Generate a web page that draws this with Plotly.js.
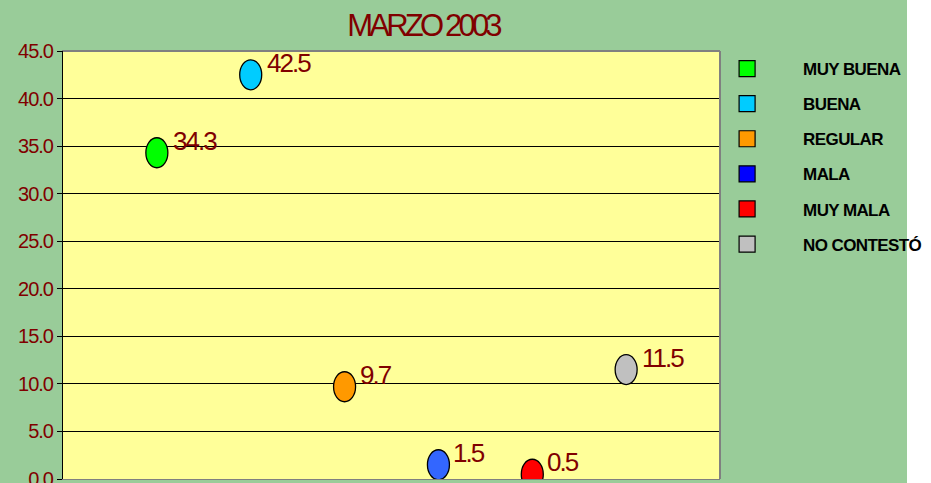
<!DOCTYPE html>
<html>
<head>
<meta charset="utf-8">
<script src="https://cdn.plot.ly/plotly-3.0.1.min.js"></script>
<style>
  html, body { margin:0; padding:0; background:#ffffff; }
  #wrap { width:931px; height:483px; background:linear-gradient(to right, #99CC99 0px, #99CC99 907px, #ffffff 907px); }
  #chart { width:931px; height:483px; }
  #chart .gtitle { letter-spacing:-3.8px; }
  #chart .ytick text { letter-spacing:-1px; }
  #chart .annotation-text { letter-spacing:-2px; }
  #chart .legendtext { letter-spacing:-0.6px; }
</style>
</head>
<body>
<div id="wrap"><div id="chart"></div></div>
<script>
const categories = ["MUY BUENA", "BUENA", "REGULAR", "MALA", "MUY MALA", "NO CONTESTÓ"];
const positions = [1, 2, 3, 4, 5, 6];
const values = [34.3, 42.5, 9.7, 1.5, 0.5, 11.5];
const markerColors = ["#00FF00", "#00CCFF", "#FF9900", "#3366FF", "#FF0000", "#C0C0C0"];
const legendColors = ["#00FF00", "#00CCFF", "#FF9900", "#0000FF", "#FF0000", "#C0C0C0"];
const yTicks = [0, 5, 10, 15, 20, 25, 30, 35, 40, 45];

const darkRed = "#800000";
const font = "Liberation Sans, Arial, sans-serif";

// legend entries (square swatches)
const traces = categories.map((c, i) => ({
  type: "scatter", mode: "markers",
  x: [null], y: [null],
  name: c, legendgroup: "g" + i,
  marker: { symbol: "square", size: 18, color: legendColors[i], line: { color: "#000000", width: 1.2 } },
  showlegend: true, hoverinfo: "skip"
}));

// elliptical point markers, anchored at the data values through the axes
const shapes = categories.map((c, i) => ({
  type: "circle", xref: "x", yref: "y", layer: "above",
  xsizemode: "pixel", ysizemode: "pixel",
  xanchor: positions[i], yanchor: values[i],
  x0: -11, x1: 11, y0: -15, y1: 15,
  fillcolor: markerColors[i], line: { color: "#000000", width: 1.3 }
}));
shapes.push(
  { type: "line", xref: "paper", yref: "paper", x0: 0, x1: 1, y0: 1, y1: 1, line: { color: "#808080", width: 2 } },
  { type: "line", xref: "paper", yref: "paper", x0: 1, x1: 1, y0: 0, y1: 1, line: { color: "#808080", width: 2 } }
);

// value labels
const annotations = categories.map((c, i) => ({
  x: positions[i], y: values[i], xref: "x", yref: "y",
  text: values[i].toFixed(1), showarrow: false,
  xanchor: "left", yanchor: "middle", xshift: 10, yshift: 12,
  font: { family: font, size: 26, color: darkRed }
}));

const layout = {
  width: 931, height: 483,
  paper_bgcolor: "rgba(0,0,0,0)",
  plot_bgcolor: "#FFFF99",
  margin: { l: 63, r: 211, t: 51, b: 4, pad: 0, autoexpand: false },
  title: {
    text: "MARZO 2003",
    font: { family: font, size: 31, color: darkRed },
    x: 0.548, xref: "paper", xanchor: "center",
    y: 0.947, yref: "container", yanchor: "middle"
  },
  xaxis: {
    range: [0, 7], showticklabels: false, showgrid: false, zeroline: false,
    showline: true, linecolor: "#808080", linewidth: 1, mirror: true, ticks: ""
  },
  yaxis: {
    range: [0, 45], tickvals: yTicks, ticktext: yTicks.map(v => v.toFixed(1)),
    showgrid: true, gridcolor: "#000000", gridwidth: 1, zeroline: false,
    showline: true, linecolor: "#000000", linewidth: 1, mirror: false,
    ticks: "outside", ticklen: 5, tickcolor: "#000000",
    ticklabeloverflow: "allow",
    tickfont: { family: font, size: 20, color: darkRed }
  },
  shapes: shapes,
  annotations: annotations,
  legend: {
    x: 0.956, xanchor: "left", y: 1.0, yanchor: "top",
    bgcolor: "rgba(0,0,0,0)", xref: "paper",
    font: { family: font, size: 17, color: "#000000", weight: "bold" },
    tracegroupgap: 10, itemwidth: 102
  }
};

Plotly.newPlot("chart", traces, layout, { displayModeBar: false, staticPlot: true });
</script>
</body>
</html>
